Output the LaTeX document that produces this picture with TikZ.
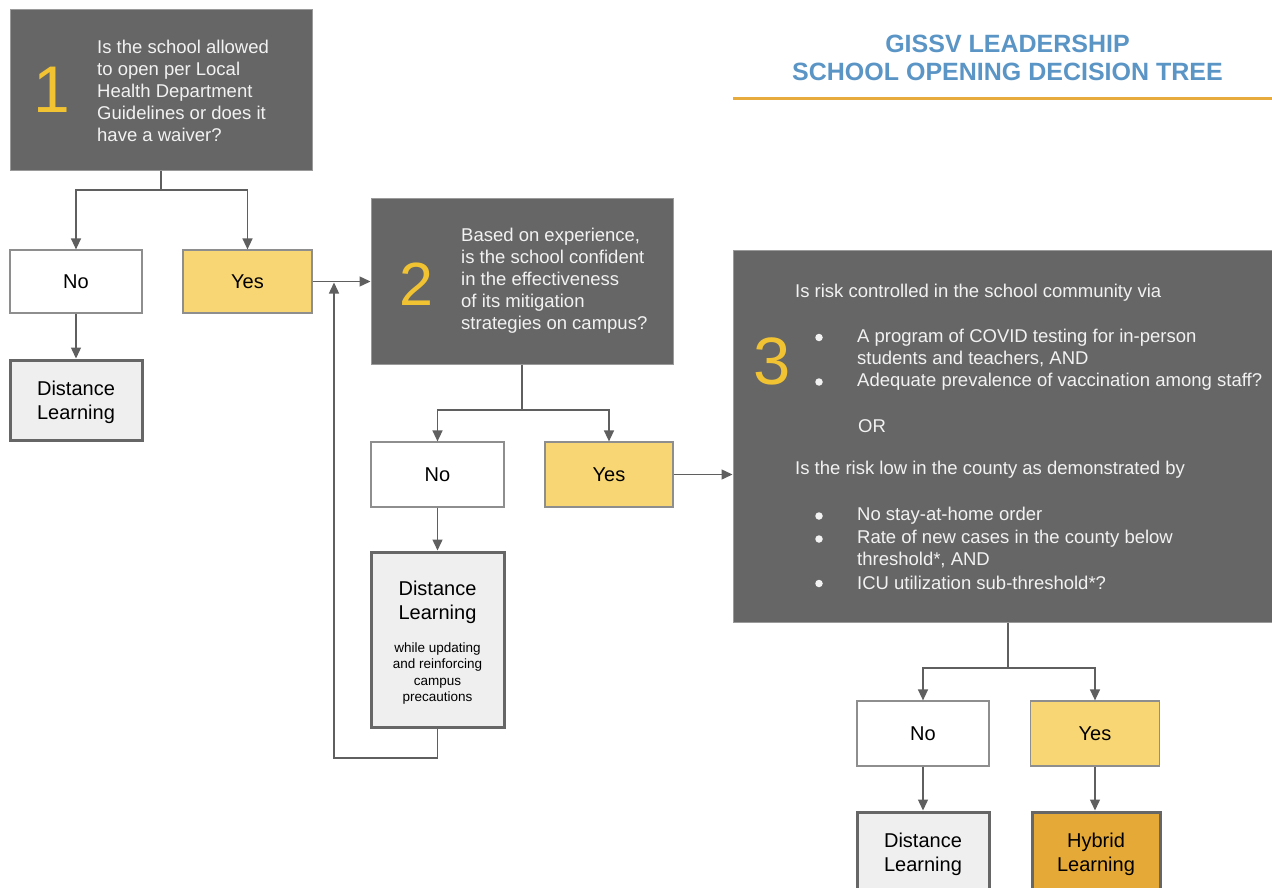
\documentclass[tikz,border=0pt]{standalone}
\usepackage{fontspec}
\setmainfont{Liberation Sans}
\usetikzlibrary{arrows.meta}
\definecolor{darkbox}{HTML}{666666}
\definecolor{darkedge}{HTML}{9A9A9A}
\definecolor{lighttext}{HTML}{F2F2F2}
\definecolor{numyel}{HTML}{F1C232}
\definecolor{yesfill}{HTML}{F8D673}
\definecolor{hybfill}{HTML}{E5A937}
\definecolor{endfill}{HTML}{EFEFEF}
\definecolor{endedge}{HTML}{666666}
\definecolor{thinedge}{HTML}{8E8E8E}
\definecolor{arrowc}{HTML}{5F5F5F}
\definecolor{titleblue}{HTML}{5A95C6}
\definecolor{ruleorange}{HTML}{E6AB3C}
\newcommand{\fsz}[2]{\fontsize{#1}{#2}\selectfont}
\begin{document}
\begin{tikzpicture}[x=1pt,y=-1pt,
  qbox/.style={draw=darkedge, fill=darkbox, line width=1pt, inner sep=0pt},
  qtext/.style={text=lighttext, font=\fsz{18.5}{22}, align=left, inner sep=0pt, anchor=west},
  num/.style={text=numyel, inner sep=0pt},
  nobox/.style={draw=thinedge, fill=white, line width=1.2pt, inner sep=0pt, font=\fsz{20}{22}, text depth=0pt, text height=14pt},
  yesbox/.style={nobox, fill=yesfill},
  endbox/.style={draw=endedge, fill=endfill, line width=3pt, inner sep=0pt, font=\fsz{20}{24}, align=center, text depth=0pt},
  hybbox/.style={endbox, fill=hybfill},
  bul/.style={circle, fill=lighttext, inner sep=0pt, minimum size=7.5pt},
  conn/.style={draw=arrowc, line width=1.4pt},
  arr/.style={conn, -{Triangle[length=11pt,width=10pt]}},
  titletext/.style={text=titleblue, font=\bfseries\fsz{25}{28.5}, align=center, inner sep=0pt}
]
\useasboundingbox (0,0) rectangle (1272,888);
\clip (0,0) rectangle (1272,888);

% title
\node[titletext] (title) at (1007.5,58) {GISSV LEADERSHIP\\SCHOOL OPENING DECISION TREE};
\coordinate (rl) at (733,99);
\coordinate (rr) at (1272,99);
\draw[ruleorange, line width=3pt] (rl) -- (rr);

% question 1
\node[qbox, minimum width=302pt, minimum height=161pt] (box1) at (161,90.5) {};
\node[num, font=\fsz{66}{66}] (n1) at (52,90) {1};
\node[qtext] (t1) at (97,90.5) {Is the school allowed\\to open per Local\\Health Department\\Guidelines or does it\\have a waiver?};
\node[nobox, minimum width=132pt, minimum height=63pt] (no1) at (76,281.5) {No};
\node[yesbox, minimum width=129pt, minimum height=63pt] (yes1) at (247.5,281.5) {Yes};
\node[endbox, minimum width=132pt, minimum height=80pt] (dl1) at (76,400) {Distance\\Learning};

% question 2
\node[qbox, minimum width=302pt, minimum height=166pt] (box2) at (522,281) {};
\node[num, font=\fsz{61}{61}] (n2) at (416.5,284) {2};
\node[qtext] (t2) at (461,281) {Based on experience,\\is the school confident\\in the effectiveness\\of its mitigation\\strategies on campus?};
\node[nobox, minimum width=133pt, minimum height=65pt] (no2) at (437.5,474.5) {No};
\node[yesbox, minimum width=128pt, minimum height=65pt] (yes2) at (609,474.5) {Yes};
\node[endbox, minimum width=133pt, minimum height=175pt] (dl2) at (437.5,639.5) {};
\node[inner sep=0pt, font=\fsz{20}{23.5}, align=center, text depth=0pt] (dl2t) at (437.5,600) {Distance\\Learning};
\node[inner sep=0pt, font=\fsz{13.5}{16.3}, align=center] (dl2s) at (437.5,673.5) {while updating\\and reinforcing\\campus\\precautions};

% question 3
\node[qbox, minimum width=550pt, minimum height=372pt] (box3) at (1008,436) {};
\node[num, font=\fsz{67}{67}] (n3) at (772,361) {3};
\node[qtext] (q3a) at (795,292.5) {Is risk controlled in the school community via};
\node[bul] (b1) at (819,337.5) {};
\node[qtext] (i1) at (857,348) {A program of COVID testing for in-person\\students and teachers, AND};
\node[bul] (b2) at (819,382) {};
\node[qtext] (i2) at (857,381.5) {Adequate prevalence of vaccination among staff?};
\node[qtext] (or) at (858,426.5) {OR};
\node[qtext] (q3b) at (795,470) {Is the risk low in the county as demonstrated by};
\node[bul] (b3) at (819,516) {};
\node[qtext] (i3) at (857,515.5) {No stay-at-home order};
\node[bul] (b4) at (819,539) {};
\node[qtext] (i4) at (857,549) {Rate of new cases in the county below\\threshold*, AND};
\node[bul] (b5) at (819,583.5) {};
\node[qtext] (i5) at (857,583) {ICU utilization sub-threshold*?};
\node[nobox, minimum width=132pt, minimum height=65pt] (no3) at (923,733.5) {No};
\node[yesbox, minimum width=129pt, minimum height=65pt] (yes3) at (1095,733.5) {Yes};
\node[endbox, minimum width=132pt, minimum height=80pt] (dl3) at (923,852) {Distance\\Learning};
\node[hybbox, minimum width=128pt, minimum height=80pt] (hyb) at (1096,852) {Hybrid\\Learning};

% connectors
\coordinate (s1) at (161,190);
\draw[conn] (box1.south) -- (s1);
\draw[arr] (s1) -| (no1.north);
\draw[arr] (s1) -| (yes1.north);
\draw[arr] (no1.south) -- (dl1.north);
\draw[arr] (yes1.east) -- (yes1.east -| box2.west);
\coordinate (lb) at (334,758);
\coordinate (lj) at (334,282.5);
\draw[arr] (dl2.south) |- (lb) -- (lj);

\coordinate (s2) at (522,410);
\draw[conn] (box2.south) -- (s2);
\draw[arr] (s2) -| (no2.north);
\draw[arr] (s2) -| (yes2.north);
\draw[arr] (no2.south) -- (dl2.north);
\draw[arr] (yes2.east) -- (yes2.east -| box3.west);

\coordinate (s3) at (1008,668);
\draw[conn] (box3.south) -- (s3);
\draw[arr] (s3) -| (no3.north);
\draw[arr] (s3) -| (yes3.north);
\draw[arr] (no3.south) -- (dl3.north);
\draw[arr] (yes3.south) -- (yes3.south |- hyb.north);
\end{tikzpicture}
\end{document}
